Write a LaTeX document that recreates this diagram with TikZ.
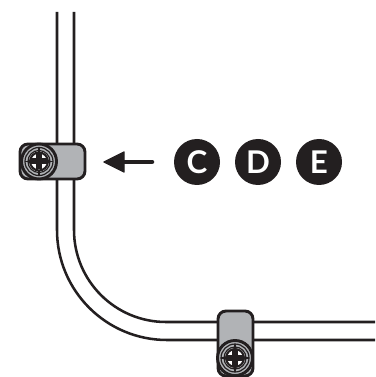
\documentclass[tikz,border=0pt]{standalone}
\usepackage{fontspec}
\setmainfont{Lato}
\definecolor{ink}{HTML}{231F20}
\definecolor{clampgrey}{HTML}{B1B3B6}
\tikzset{
  x=0.75pt,y=-0.75pt,
  tube/.style={draw=ink,line width=1.9pt,line cap=butt},
  clamp/.style={draw=ink,fill=clampgrey,line width=2.2pt,rounded corners=6pt},
  badge/.style={circle,fill=ink,text=white,minimum size=34.5pt,inner sep=0pt,font=\fontsize{23.5}{24}\selectfont\bfseries},
}
\newcommand{\screwhead}[1]{%
  \begin{scope}[shift={(#1)}]
    \draw[ink,fill=clampgrey,line width=2.2pt] (0,0) circle (17.5);
    \draw[ink,line width=0.9pt] (0,0) circle (14);
    \draw[ink,fill=white,line width=0.9pt] (0,0) circle (11);
    \draw[ink,line width=1.6pt] (0,0) circle (9);
    \fill[ink] (-3,-8) rectangle (3,8);
    \fill[ink] (-8,-3) rectangle (8,3);
    \draw[ink,line width=0.8pt] (0,-14) -- (0,-9) (0,9) -- (0,14) (-14,0) -- (-9,0) (9,0) -- (14,0);
  \end{scope}}
\begin{document}
\begin{tikzpicture}
\useasboundingbox (0,0) rectangle (375,377);
% tube
\draw[tube] (57,12) -- (57,230) arc[start angle=180,end angle=90,radius=110] -- (167,340) -- (375,340);
\draw[tube] (74,12) -- (74,230) arc[start angle=180,end angle=90,radius=92] -- (166,322) -- (375,322);
% left clamp
\draw[clamp] (20,144) rectangle (85,179);
\screwhead{39,161.5}
% bottom clamp
\draw[clamp] (218,311) rectangle (253,376);
\screwhead{235,358}
% arrow
\coordinate (tip) at (104,162);
\coordinate (tail) at (152,162);
\draw[ink,line width=3.4pt,line cap=round] (tail) -- (122,162);
\fill[ink,draw=ink,line width=1pt,line join=round] (tip) -- (124,152) -- (124,172) -- cycle;
% badges
\node[badge] (c) at (197,162) {C};
\node[badge] (d) at (258,162) {D};
\node[badge] (e) at (319,162) {E};
\end{tikzpicture}
\end{document}
